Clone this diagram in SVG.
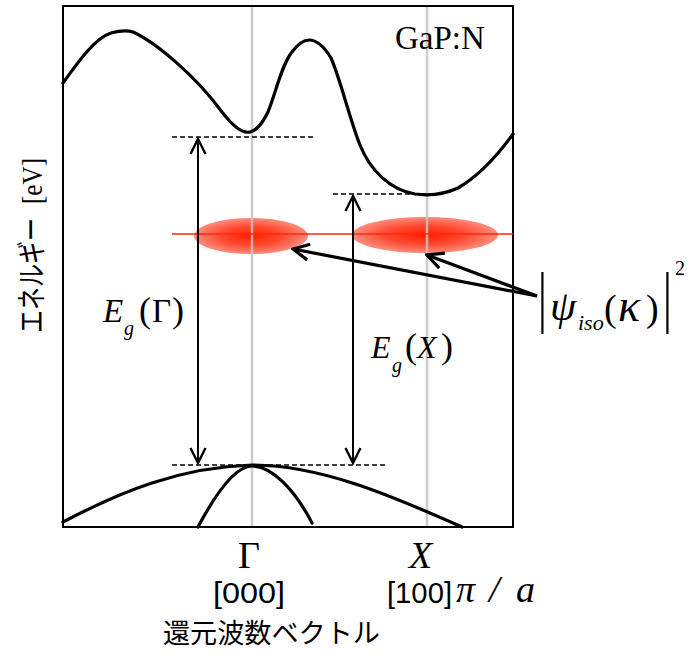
<svg xmlns="http://www.w3.org/2000/svg" width="689" height="657" viewBox="0 0 689 657">
<style>
.band{fill:none;stroke:#000;stroke-width:3.2;stroke-linecap:round;stroke-linejoin:round}
.grid{stroke:#c4c4c4;stroke-width:2.5}
.dash{stroke:#000;stroke-width:1.6;stroke-dasharray:5 3}
.eg{stroke:#000;stroke-width:2;fill:none}
.ptr{stroke:#000;stroke-width:3.2;fill:none}
.serif{font-family:"Liberation Serif","Times New Roman",serif;fill:#000}
.it{font-style:italic}
.sans{font-family:"Liberation Sans",Arial,sans-serif;fill:#000}
.jp{font-family:"Noto Sans CJK JP","Noto Sans",sans-serif;fill:#000}
</style>
<defs>
<radialGradient id="blob" cx="0.5" cy="0.5" r="0.5">
<stop offset="0" stop-color="#ff1e00"/>
<stop offset="0.55" stop-color="#ff4c33"/>
<stop offset="1" stop-color="#ff8c7c"/>
</radialGradient>
<marker id="head" viewBox="-16 -9 18 18" markerWidth="18" markerHeight="18" refX="0" refY="0" orient="auto-start-reverse" markerUnits="userSpaceOnUse">
<path d="M-15,-7.5 L0,0 L-15,7.5" fill="none" stroke="#000" stroke-width="2.4" stroke-linejoin="miter"/>
</marker>
<marker id="head2" viewBox="-18 -10 20 20" markerWidth="20" markerHeight="20" refX="0" refY="0" orient="auto" markerUnits="userSpaceOnUse">
<path d="M-16,-8 L0,0 L-16,8" fill="none" stroke="#000" stroke-width="3.2" stroke-linejoin="miter"/>
</marker>
</defs>
<rect width="689" height="657" fill="#fff"/>

<g id="frame">
<rect x="63" y="6" width="450" height="521" fill="none" stroke="#000" stroke-width="2"/>
</g>

<g id="states">
<ellipse id="state-gamma" cx="251" cy="236" rx="57" ry="18" fill="url(#blob)"/>
<ellipse id="state-x" cx="425" cy="235" rx="73" ry="18" fill="url(#blob)"/>
</g>

<g id="gridlines">
<line class="grid" x1="252" y1="7" x2="252" y2="526" opacity="0.85"/>
<line class="grid" x1="427" y1="7" x2="427" y2="526" opacity="0.85"/>
</g>

<g id="level">
<line x1="172" y1="234" x2="513" y2="234" stroke="#ff2a0a" stroke-width="1.6"/>
</g>

<g id="bands">
<path class="band" d="M63,83 C78,62 95,38 111,33 C118,31 127,30 133,32 C155,42 195,75 222,112 C232,125 242,134 250,132 C258,130 263,122 268,112 C276,92 282,64 292,52 C298,44 303,40 309,40 C317,40 325,48 331,58 C340,78 350,120 360,145 C370,170 390,190 415,194 C430,196 445,194 458,188 C480,175 500,152 513,134"/>
<path class="band" d="M63,522 C120,492 180,467 252,465 C320,465 390,495 462,527"/>
<path class="band" d="M198,527 C215,495 235,466 252,466 C272,466 295,490 312,523"/>
</g>

<g id="connectors">
<line class="dash" x1="172" y1="137" x2="313" y2="137"/>
<line class="dash" x1="333" y1="194" x2="443" y2="194"/>
<line class="dash" x1="172" y1="465" x2="387" y2="465"/>
<line class="eg" x1="198" y1="139" x2="198" y2="463" marker-start="url(#head)" marker-end="url(#head)"/>
<line class="eg" x1="353" y1="196" x2="353" y2="463" marker-start="url(#head)" marker-end="url(#head)"/>
<line class="ptr" x1="537" y1="296" x2="293" y2="249" marker-end="url(#head2)"/>
<line class="ptr" x1="537" y1="296" x2="427" y2="255" marker-end="url(#head2)"/>
</g>

<g id="labels">
<text class="serif" x="395" y="49" font-size="33">GaP:N</text>

<text class="serif it" x="103" y="322" font-size="33">E</text>
<text class="serif it" x="124" y="335" font-size="20">g</text>
<text class="serif" x="139" y="322" font-size="36">(</text>
<text class="serif" x="152" y="322" font-size="33">Γ</text>
<text class="serif" x="172" y="322" font-size="36">)</text>

<text class="serif it" x="371" y="358" font-size="32">E</text>
<text class="serif it" x="392" y="372" font-size="20">g</text>
<text class="serif" x="405" y="358" font-size="36">(</text>
<text class="serif it" x="417" y="358" font-size="32">X</text>
<text class="serif" x="441" y="358" font-size="36">)</text>

<text class="serif" transform="translate(538,320) scale(1,1.55)" font-size="44">|</text>
<text class="serif it" x="550" y="320" font-size="42">ψ</text>
<text class="serif it" x="578" y="330" font-size="22">iso</text>
<text class="serif" x="604" y="321" font-size="38">(</text>
<text class="serif it" x="618" y="321" font-size="46">κ</text>
<text class="serif" x="646" y="321" font-size="38">)</text>
<text class="serif" transform="translate(663,320) scale(1,1.55)" font-size="44">|</text>
<text class="serif" x="675" y="275" font-size="20">2</text>

<text class="serif" x="238" y="568" font-size="38">Γ</text>
<text class="serif it" x="409" y="568" font-size="38">X</text>
<text class="sans" x="213" y="603" font-size="29" textLength="72" lengthAdjust="spacingAndGlyphs">[000]</text>
<text class="sans" x="387" y="603" font-size="29" textLength="65" lengthAdjust="spacingAndGlyphs">[100]</text>
<text class="serif it" x="456" y="602" font-size="38">π</text>
<text class="serif it" x="489" y="602" font-size="38">/</text>
<text class="serif it" x="516" y="602" font-size="38">a</text>
<text class="jp" x="163" y="643" font-size="27" textLength="217" lengthAdjust="spacingAndGlyphs">還元波数ベクトル</text>

<text transform="translate(42,333) rotate(-90)" font-size="30"><tspan class="jp" textLength="115" lengthAdjust="spacingAndGlyphs">エネルギー</tspan><tspan class="serif" dx="14" textLength="46" lengthAdjust="spacingAndGlyphs">[eV]</tspan></text>
</g>
</svg>
